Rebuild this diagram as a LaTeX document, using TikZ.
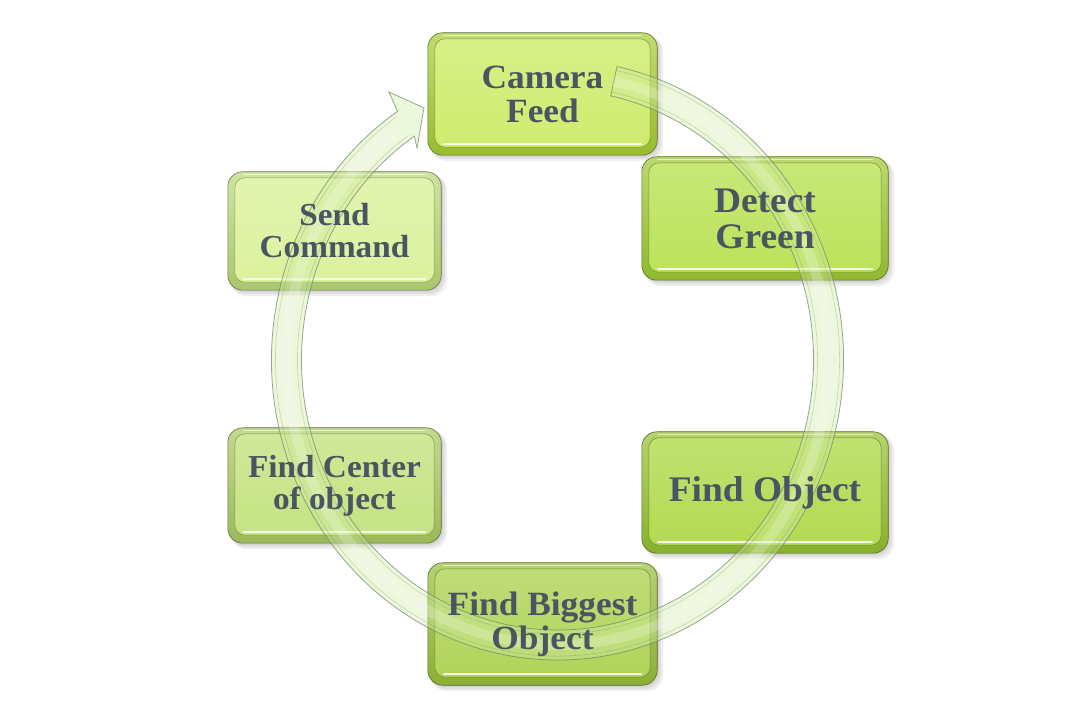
\documentclass[tikz,border=0pt]{standalone}
\usepackage{fontspec}
\setmainfont{Liberation Serif}[FakeStretch=1.04]
\usetikzlibrary{calc}
\pgfdeclarelayer{bg}
\pgfdeclarelayer{ring}
\pgfsetlayers{bg,ring,main}
\definecolor{txt}{HTML}{4A5562}
\definecolor{ringfill}{HTML}{CFEBA3}
\definecolor{ringline}{HTML}{6E8464}
\definecolor{fCam}{HTML}{CFEC6E}\definecolor{rCam}{HTML}{A5CC36}
\definecolor{fDet}{HTML}{BCE25A}\definecolor{rDet}{HTML}{9CC834}
\definecolor{fObj}{HTML}{B3DA52}\definecolor{rObj}{HTML}{94C030}
\definecolor{fBig}{HTML}{B1D45A}\definecolor{rBig}{HTML}{98BE3C}
\definecolor{fCen}{HTML}{C5E383}\definecolor{rCen}{HTML}{A8C962}
\definecolor{fSnd}{HTML}{DBF29E}\definecolor{rSnd}{HTML}{B8D878}
\tikzset{
  lbl/.style={text=txt, align=center, inner sep=0pt,
    font=\fontsize{#1}{#1}\selectfont\bfseries},
}
\newcommand\deco[3]{%
\begin{pgfonlayer}{bg}
\foreach \s in {2,4,6}{
  \fill[black,opacity=.06,rounded corners=16pt]
    ($(#1.south west)+(\s*0.5,-\s)$) rectangle ($(#1.north east)+(\s,-\s*0.5)$);}
\path[rounded corners=15pt, top color=#3!70!white, bottom color=#3!92!black,
      draw=#3!55!black, line width=.6pt]
  (#1.south west) rectangle (#1.north east);
\path[rounded corners=10pt, top color=#2!82!white, bottom color=#2,
      draw=#3!75!black, line width=.5pt]
  ($(#1.south west)+(7,8)$) rectangle ($(#1.north east)+(-7,-6)$);
\draw[white, opacity=.85, line width=1.8pt, line cap=round]
  ($(#1.south west)+(16,11.5)$) -- ($(#1.south east)+(-16,11.5)$);
\draw[white, opacity=.6, line width=1.2pt, line cap=round]
  ($(#1.north west)+(16,-2.5)$) -- ($(#1.north east)+(-16,-2.5)$);
\end{pgfonlayer}}
\begin{document}
\begin{tikzpicture}[x=1pt,y=1pt]
\begin{pgfonlayer}{bg}
\fill[white] (0,0) rectangle (1071,715);
\end{pgfonlayer}
\useasboundingbox (0,0) rectangle (1071,715);

\node[lbl=34, minimum width=229pt, minimum height=122pt] (cam) at (542.5,621) {Camera\\Feed};
\node[lbl=36, minimum width=246pt, minimum height=123pt] (det) at (765,496.5) {Detect\\Green};
\node[lbl=36, minimum width=246pt, minimum height=121pt] (obj) at (765,222.5) {Find Object};
\node[lbl=34, minimum width=229pt, minimum height=122pt] (big) at (542.5,91) {Find Biggest\\Object};
\node[lbl=32, minimum width=213pt, minimum height=115pt] (cen) at (334.5,229.5) {Find Center\\of object};
\node[lbl=32, minimum width=213pt, minimum height=118pt] (snd) at (334.5,484) {Send\\Command};

\deco{cam}{fCam}{rCam}
\deco{det}{fDet}{rDet}
\deco{obj}{fObj}{rObj}
\deco{big}{fBig}{rBig}
\deco{cen}{fCen}{rCen}
\deco{snd}{fSnd}{rSnd}

\coordinate (C) at (557.5,355);
\begin{pgfonlayer}{ring}
\path[fill=ringfill, fill opacity=.38, draw=ringline, draw opacity=.7, line width=.8pt]
  ($(C)+(78:286pt and 300pt)$)
  arc[start angle=78, end angle=-236, x radius=286pt, y radius=300pt]
  -- (389,623) -- (424,607) -- (417,567)
  -- ($(C)+(-236:256pt and 270pt)$)
  arc[start angle=-236, end angle=78, x radius=256pt, y radius=270pt] -- cycle;
\draw[white, opacity=.22, line width=10pt]
  ($(C)+(78:271pt and 285pt)$)
  arc[start angle=78, end angle=-233, x radius=271pt, y radius=285pt];
\draw[ringline, opacity=.3, line width=.6pt]
  ($(C)+(78:282pt and 296pt)$)
  arc[start angle=78, end angle=-235, x radius=282pt, y radius=296pt];
\draw[ringline, opacity=.3, line width=.6pt]
  ($(C)+(78:260pt and 274pt)$)
  arc[start angle=78, end angle=-235, x radius=260pt, y radius=274pt];
\end{pgfonlayer}
\end{tikzpicture}
\end{document}
